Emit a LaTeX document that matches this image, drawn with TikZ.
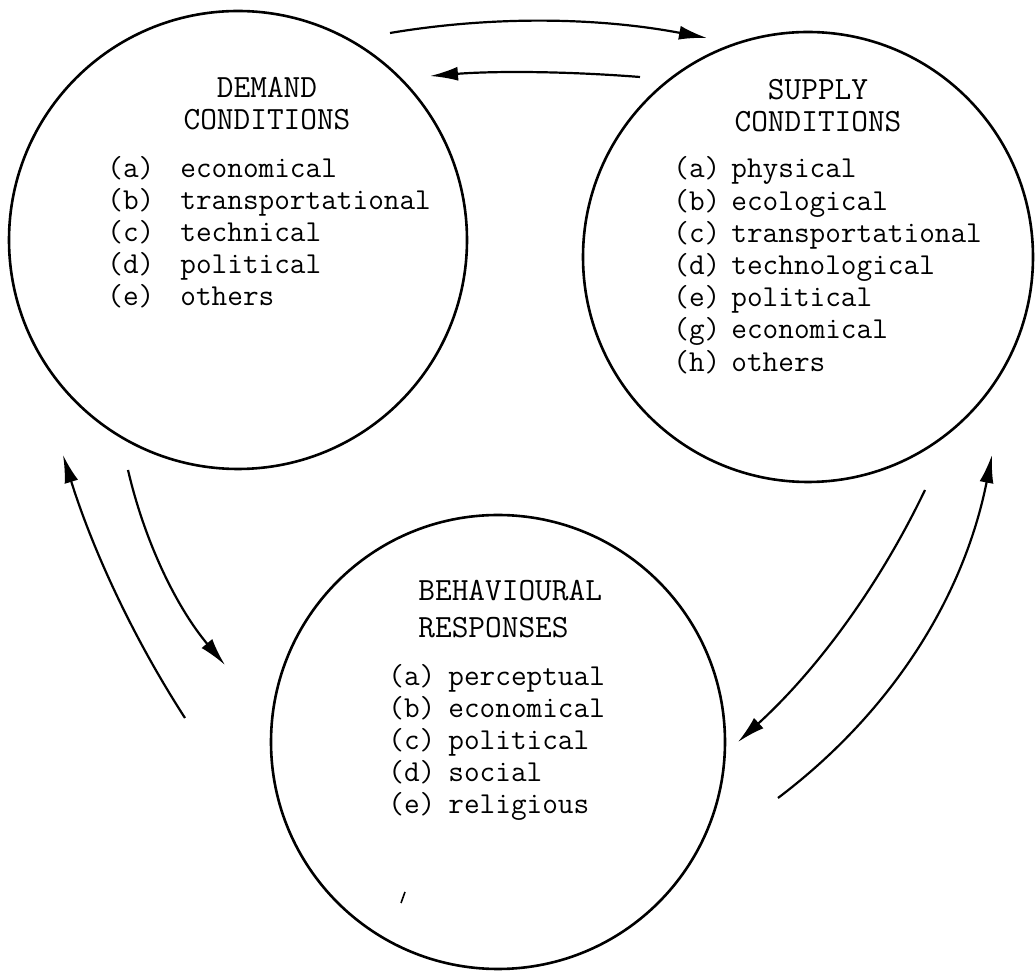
\documentclass[tikz,border=0pt]{standalone}
\usepackage{tikz}
\usetikzlibrary{arrows.meta}

\tikzset{
  ring/.style={draw, circle, line width=1.3pt, inner sep=0pt, outer sep=0pt},
  flow/.style={line width=1.1pt, -{Latex[length=14pt,width=7pt]}},
  heading/.style={font=\ttfamily\fontsize{16.2}{19}\selectfont, inner sep=0pt},
  entry/.style={font=\ttfamily\fontsize{15.2}{18}\selectfont, inner sep=0pt, anchor=base west},
}

\begin{document}
\begin{tikzpicture}[x=0.5pt, y=-0.5pt]
            \useasboundingbox (0,0) rectangle (1035,972);
            % the three circles
            \node[ring, minimum size=229pt] (demand) at (238,240) {};
            \node[ring, minimum size=225pt] (supply) at (808,257) {};
            \node[ring, minimum size=227pt] (behav) at (498,742) {};

            \node[heading, anchor=base] (dhead1) at (267,98) {DEMAND};
            \node[heading, anchor=base] (dhead2) at (267,130) {CONDITIONS};
            \foreach \l/\w [count=\i from 0] in {a/economical,b/transportational,c/technical,d/political,e/others}{
              \node[entry] (dl\i) at (107,178+32*\i) {(\l)};
              \node[entry] (dw\i) at (180,178+32*\i) {\w};
            }

            \node[heading, anchor=base] (shead1) at (818,100) {SUPPLY};
            \node[heading, anchor=base] (shead2) at (818,132) {CONDITIONS};
            \foreach \l/\w [count=\i from 0] in {a/physical,b/ecological,c/transportational,d/technological,e/political,g/economical,h/others}{
              \node[entry] (sl\i) at (673,178+32.2*\i) {(\l)};
              \node[entry] (sw\i) at (731,178+32.2*\i) {\w};
            }

            \node[heading, anchor=base west] (bhead1) at (418,601) {BEHAVIOURAL};
            \node[heading, anchor=base west] (bhead2) at (418,638) {RESPONSES};
            \foreach \l/\w [count=\i from 0] in {a/perceptual,b/economical,c/political,d/social,e/religious}{
              \node[entry] (bl\i) at (388,686+32*\i) {(\l)};
              \node[entry] (bw\i) at (448,686+32*\i) {\w};
            }

            % arrow ends
            \coordinate (ds1) at (390,33);  \coordinate (ds2) at (707,38);
            \coordinate (sd1) at (640,77);  \coordinate (sd2) at (430,76);
            \coordinate (db1) at (128,470); \coordinate (db2) at (225,665);
            \coordinate (bd1) at (185,718); \coordinate (bd2) at (63,455);
            \coordinate (sb1) at (925,490); \coordinate (sb2) at (738,742);
            \coordinate (bs1) at (778,798); \coordinate (bs2) at (992,455);

            \draw[flow] (ds1) .. controls (491,16) and (596,17) .. (ds2);
            \draw[flow] (sd1) .. controls (563,71) and (493,71) .. (sd2);
            \draw[flow] (db1) .. controls (145,543) and (177,608) .. (db2);
            \draw[flow] (bd1) .. controls (132,636) and (92,548) .. (bd2);
            \draw[flow] (sb1) .. controls (879,586) and (817,670) .. (sb2);
            \draw[flow] (bs1) .. controls (893,711) and (964,596) .. (bs2);

            \draw[line width=0.8pt] (401,903) -- (405,892);
\end{tikzpicture}
\end{document}
